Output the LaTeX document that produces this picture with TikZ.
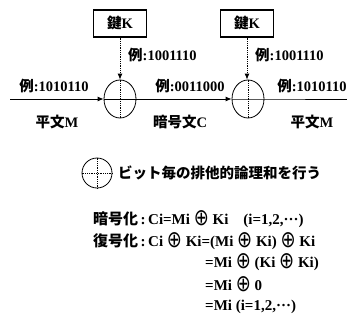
\documentclass[tikz,border=0pt]{standalone}
\usepackage{fontspec}
\setmainfont{Liberation Serif}
\newfontfamily\jp{Noto Sans CJK JP}
\newfontfamily\dv{DejaVu Sans}
\usetikzlibrary{shapes.geometric,arrows.meta}
\newcommand\J[1]{{\jp #1}}
\newcommand\xo{{\dv\mdseries\raisebox{-1pt}{\scalebox{1.2}[1.55]{⊕}}}}
\begin{document}
\begin{tikzpicture}[x=1pt,y=-1pt,
  lab/.style={font=\bfseries\fontsize{14.5}{16}\selectfont, inner sep=0pt},
  keybox/.style={draw, line width=1.4pt, minimum width=53pt, minimum height=27pt, inner sep=0pt, font=\bfseries\fontsize{14.5}{16}\selectfont},
  xorc/.style={ellipse, draw, line width=0.8pt, minimum width=32pt, minimum height=38pt, inner sep=0pt},
  arr/.style={line width=0.8pt, -{Latex[length=6pt,width=5pt]}},
  plain/.style={line width=0.8pt},
  eq/.style={font=\bfseries\fontsize{15}{17}\selectfont, anchor=west, inner sep=0pt}]
\useasboundingbox (0,0) rectangle (353,321);
% key boxes
\node[keybox] (k1) at (120,23.5) {\J{鍵}K};
\node[keybox] (k2) at (247,23.5) {\J{鍵}K};
% xor circles
\node[xorc] (c1) at (120,99) {};
\node[xorc] (c2) at (248,99) {};
\coordinate (s) at (10,99);
\coordinate (e) at (347,99);
\draw[arr] (s) -- (c1.west);
\draw[plain] (c1.west) -- (c1.east);
\draw[arr] (c1.east) -- (c2.west);
\draw[plain] (c2.west) -- (c2.east) -- (e);
\draw[arr, densely dotted] (k1.south) -- (c1.north);
\draw[arr, densely dotted] (k2.south) -- (k2.south |- c2.north);
\draw[plain, densely dotted] (c1.north) -- (c1.south);
\draw[plain, densely dotted] (c2.north) -- (c2.south);
% labels
\node[lab, anchor=west] (l1) at (128,55) {\J{例}:1001110};
\node[lab, anchor=west] (l2) at (255,55) {\J{例}:1001110};
\node[lab] (m1) at (54,86) {\J{例}:1010110};
\node[lab] (m2) at (190,86) {\J{例}:0011000};
\node[lab] (m3) at (312,86) {\J{例}:1010110};
\node[lab] (n1) at (57,122) {\J{平文}M};
\node[lab] (n2) at (180,122) {\J{暗号文}C};
\node[lab] (n3) at (312,122) {\J{平文}M};
% legend
\node[xorc, minimum width=30pt, minimum height=30pt] (lg) at (97,173) {};
\draw[plain, densely dotted] (lg.north) -- (lg.south);
\draw[plain, densely dotted] (lg.west) -- (lg.east);
\node[lab, anchor=west, font=\bfseries\fontsize{14.5}{17}\selectfont] (lt) at (118,173) {\J{ビット毎の排他的論理和を行う}};
% equations
\node[eq] (e1) at (93,219) {\J{暗号化}\,:\,Ci=Mi \xo{} Ki\quad(i=1,2,···)};
\node[eq] (e2) at (93,241) {\J{復号化}\,:\,Ci \xo{} Ki=(Mi \xo{} Ki) \xo{} Ki};
\node[eq] (e3) at (205,262) {=Mi \xo{} (Ki \xo{} Ki)};
\node[eq] (e4) at (205,284) {=Mi \xo{} 0};
\node[eq] (e5) at (205,307) {=Mi (i=1,2,···)};
\end{tikzpicture}
\end{document}
